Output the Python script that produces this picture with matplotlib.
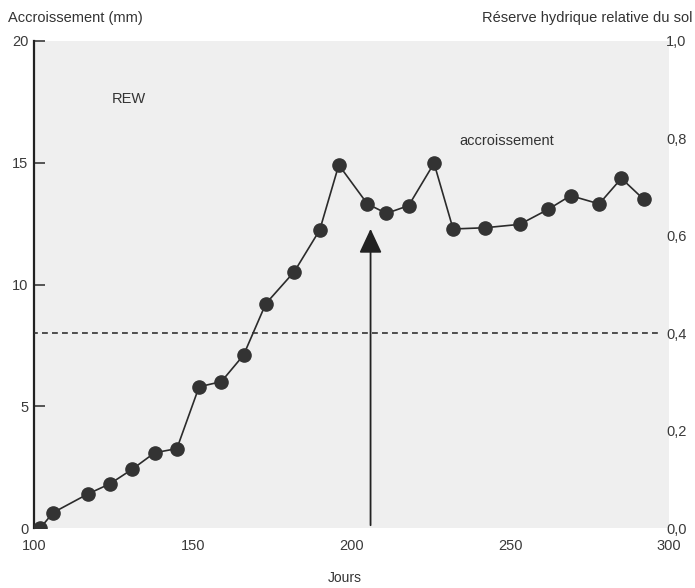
"""Accroissement et réserve hydrique relative du sol"""

import matplotlib
matplotlib.use('Agg')
from matplotlib import pyplot as plt

plt.rcParams['font.family'] = ['Liberation Sans', 'DejaVu Sans']

# Data
jours = [102, 106, 117, 124, 131, 138, 145, 152, 159, 166, 173, 182, 190,
         196, 205, 211, 218, 226, 232, 242, 253, 262, 269, 278, 285, 292]
accroissement = [0.0, 0.63, 1.40, 1.82, 2.42, 3.09, 3.26, 5.80, 6.01, 7.10,
                 9.21, 10.53, 12.24, 14.91, 13.31, 12.92, 13.24, 14.98, 12.28,
                 12.33, 12.47, 13.09, 13.65, 13.31, 14.36, 13.50]
seuil_rew = 0.4      # dashed threshold on relative water reserve
jour_seuil = 206     # arrow marking the day the threshold is crossed
left_ticks = [0, 5, 10, 15, 20]
right_ticks = [0.0, 0.2, 0.4, 0.6, 0.8, 1.0]
right_labels = ['0,0', '0,2', '0,4', '0,6', '0,8', '1,0']
x_ticks = [100, 150, 200, 250, 300]

fig = plt.figure(figsize=(6.95, 5.88), dpi=100)
fig.patch.set_facecolor('white')
ax = fig.add_axes([34 / 695, 1 - 528 / 588, (669 - 34) / 695, (528 - 41) / 588])
ax.set_facecolor('#efefef')

ax.plot(jours, accroissement, color='#2b2b2b', lw=1.2, marker='o',
        markersize=9.5, markerfacecolor='#333333', markeredgecolor='#333333',
        zorder=3)

ax.set_xlim(100, 300)
ax.set_ylim(0, 20)
ax.set_yticks(left_ticks)
ax.set_xticks(x_ticks)
ax.tick_params(axis='y', direction='in', length=8, width=1.2, labelsize=10.5,
               colors='#3a3a3a', pad=4)
ax.tick_params(axis='x', length=0, labelsize=10.5, colors='#3a3a3a', pad=8)
for side in ['top', 'right', 'bottom']:
    ax.spines[side].set_visible(False)
ax.spines['left'].set_linewidth(1.6)
ax.spines['left'].set_color('#222222')

# Right axis: relative water reserve
ax2 = ax.twinx()
ax2.set_ylim(0, 1.0)
ax2.set_yticks(right_ticks)
ax2.set_yticklabels(right_labels)
ax2.tick_params(axis='y', length=0, labelsize=10.5, colors='#3a3a3a', pad=-2)
for side in ['top', 'right', 'bottom', 'left']:
    ax2.spines[side].set_visible(False)
ax2.axhline(seuil_rew, xmin=-0.003, xmax=0.985, color='#333333', lw=1.2,
            ls=(0, (3.5, 2.5)))

# Arrow
ax.annotate('', xy=(jour_seuil, 12.4), xytext=(jour_seuil, 0),
            arrowprops=dict(arrowstyle='-|>,head_length=1.5,head_width=0.7',
                            color='#222222', lw=1.3))

ax.text(130, 17.6, 'REW', fontsize=10.5, color='#333333', ha='center', va='center')
ax.text(249, 15.9, 'accroissement', fontsize=10.5, color='#333333',
        ha='center', va='center')

fig.text(8 / 695, 1 - 18 / 588, 'Accroissement (mm)', fontsize=10.5,
         color='#333333', ha='left', va='center')
fig.text(693 / 695, 1 - 18 / 588, 'Réserve hydrique relative du sol',
         fontsize=10.5, color='#333333', ha='right', va='center')
fig.text(345 / 695, 1 - 578 / 588, 'Jours', fontsize=10, color='#333333',
         ha='center', va='center')

fig.savefig('out.png', dpi=100)
